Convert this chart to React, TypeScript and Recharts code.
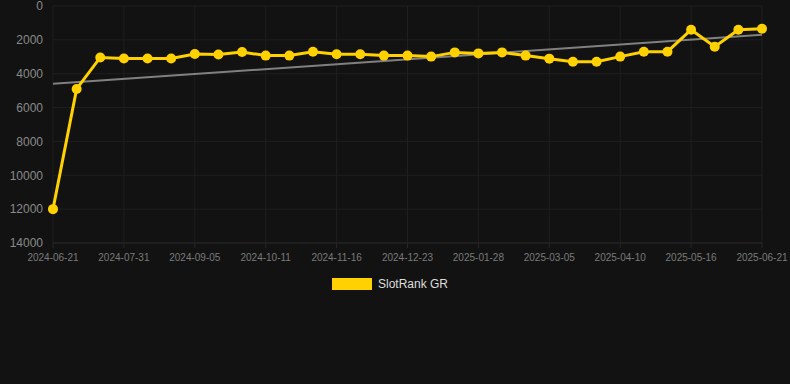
import { LineChart, Line, XAxis, YAxis, CartesianGrid, Legend, ReferenceLine } from 'recharts';

const dates = [
  '2024-06-21', '2024-07-04', '2024-07-17', '2024-07-31', '2024-08-12', '2024-08-24',
  '2024-09-05', '2024-09-17', '2024-09-29', '2024-10-11', '2024-10-23', '2024-11-04',
  '2024-11-16', '2024-11-28', '2024-12-11', '2024-12-23', '2025-01-04', '2025-01-16',
  '2025-01-28', '2025-02-09', '2025-02-21', '2025-03-05', '2025-03-17', '2025-03-29',
  '2025-04-10', '2025-04-22', '2025-05-04', '2025-05-16', '2025-05-28', '2025-06-09',
  '2025-06-21',
];

const rank = [
  12000, 4900, 3040, 3100, 3100, 3100, 2840, 2860, 2720, 2930, 2930, 2700, 2850, 2850,
  2930, 2930, 2990, 2740, 2800, 2740, 2930, 3110, 3290, 3290, 2990, 2700, 2700, 1400,
  2400, 1400, 1340,
];

const tickDates = [
  '2024-06-21', '2024-07-31', '2024-09-05', '2024-10-11', '2024-11-16', '2024-12-23',
  '2025-01-28', '2025-03-05', '2025-04-10', '2025-05-16', '2025-06-21',
];

const yTicks = [0, 2000, 4000, 6000, 8000, 10000, 12000, 14000];

// trend line end values
const trendStart = 4600;
const trendEnd = 1700;

const data = dates.map((d, i) => ({ date: d, rank: rank[i] }));

const YELLOW = '#FFD100';

function LegendContent() {
  return (
    <div style={{ height: 20, display: 'flex', justifyContent: 'center', alignItems: 'center' }}>
      <span style={{ display: 'inline-block', width: 40, height: 12, background: YELLOW, marginLeft: 18, marginRight: 6 }} />
      <span style={{ color: '#dddddd', fontSize: 12 }}>SlotRank GR</span>
    </div>
  );
}

export default function App() {
  return (
    <div
      style={{
        position: 'absolute',
        left: 0,
        top: 0,
        width: 790,
        height: 384,
        background: '#121212',
        fontFamily: 'Arial, Helvetica, "Liberation Sans", sans-serif',
      }}
    >
      <LineChart width={790} height={384} data={data} margin={{ top: 6, right: 28, left: 0, bottom: 90 }}>
        <CartesianGrid stroke="#1f1f1f" />
        <XAxis
          dataKey="date"
          ticks={tickDates}
          interval={0}
          height={31}
          tick={{ fontSize: 10, fill: '#7a7a7a' }}
          axisLine={{ stroke: '#262626' }}
          tickLine={{ stroke: '#262626' }}
          tickSize={5}
          tickMargin={6}
        />
        <YAxis
          reversed
          domain={[0, 14000]}
          ticks={yTicks}
          interval={0}
          width={53}
          tick={{ fontSize: 12, fill: '#8a8a8a' }}
          axisLine={false}
          tickLine={false}
          tickMargin={4}
        />
        <Legend verticalAlign="bottom" content={<LegendContent />} />
        <ReferenceLine
          segment={[
            { x: dates[0], y: trendStart },
            { x: dates[dates.length - 1], y: trendEnd },
          ]}
          stroke="#808080"
          strokeWidth={2}
        />
        <Line
          type="linear"
          dataKey="rank"
          name="SlotRank GR"
          stroke={YELLOW}
          strokeWidth={3}
          dot={{ r: 5, fill: YELLOW, stroke: YELLOW, strokeWidth: 0 }}
          activeDot={false}
          isAnimationActive={false}
        />
      </LineChart>
    </div>
  );
}
